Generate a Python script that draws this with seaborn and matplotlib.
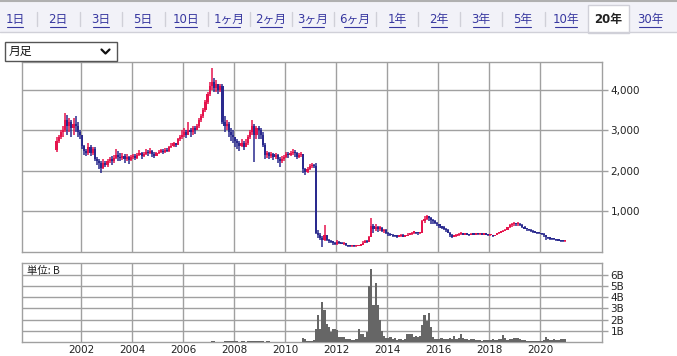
import numpy as np
import seaborn as sns
import matplotlib.pyplot as plt
from matplotlib.patches import Rectangle
from matplotlib.lines import Line2D

# monthly candles, Jan 2001 - Dec 2020 (one line per year)
first_open = 2520
close = [
    2750, 2850, 2950, 3000, 3250, 3100, 3200, 3050, 3150, 3100, 2950, 2900,
    2620, 2500, 2450, 2600, 2450, 2550, 2300, 2250, 2200, 2080, 2200, 2150,
    2250, 2300, 2250, 2330, 2400, 2350, 2320, 2380, 2300, 2350, 2280, 2350,
    2380, 2320, 2400, 2450, 2380, 2420, 2480, 2450, 2500, 2420, 2380, 2450,
    2480, 2500, 2460, 2520, 2500, 2580, 2620, 2680, 2650, 2780, 2850, 2900,
    2960, 2900, 3000, 2950, 3050, 3020, 3100, 3250, 3350, 3500, 3700, 3900,
    4100, 4200, 4050, 4150, 4000, 4100, 3200, 3100, 3150, 2950, 2900, 2850,
    2750, 2680, 2620, 2700, 2600, 2700, 2850, 2950, 3100, 2900, 3050, 3000,
    2900, 2650, 2400, 2450, 2380, 2420, 2350, 2400, 2300, 2250, 2300, 2350,
    2420, 2400, 2450, 2480, 2450, 2350, 2400, 2420, 2050, 1980, 2050, 2120,
    2150, 2120, 470, 420, 350, 300, 420, 300, 270, 250, 230, 190,
    240, 220, 200, 210, 170, 150, 140, 150, 140, 150, 160, 180,
    230, 260, 250, 360, 640, 560, 620, 580, 600, 520, 540, 480,
    450, 420, 400, 390, 380, 400, 420, 380, 400, 430, 450, 480,
    480, 470, 460, 480, 760, 820, 880, 850, 800, 760, 720, 680,
    630, 600, 580, 550, 480, 420, 380, 400, 420, 440, 450, 430,
    440, 430, 420, 440, 430, 450, 440, 440, 430, 440, 430, 420,
    420, 400, 410, 460, 480, 500, 520, 540, 610, 660, 680, 700,
    680, 700, 660, 620, 580, 560, 540, 520, 500, 480, 470, 460,
    450, 410, 360, 340, 330, 320, 310, 290, 280, 270, 260, 270,
]
high = [
    2850, 2900, 3000, 3100, 3430, 3380, 3300, 3250, 3300, 3350, 3200, 3000,
    2850, 2650, 2550, 2700, 2650, 2600, 2600, 2350, 2300, 2250, 2300, 2250,
    2300, 2350, 2380, 2400, 2550, 2500, 2450, 2450, 2420, 2420, 2380, 2400,
    2420, 2420, 2450, 2520, 2480, 2480, 2540, 2520, 2560, 2520, 2460, 2480,
    2520, 2550, 2540, 2560, 2560, 2620, 2680, 2720, 2700, 2820, 2900, 3000,
    3050, 3000, 3200, 3050, 3100, 3100, 3150, 3300, 3400, 3550, 3750, 3950,
    4200, 4540, 4300, 4250, 4150, 4150, 4150, 3350, 3250, 3200, 3050, 3000,
    2850, 2800, 2750, 2800, 2750, 2780, 2900, 3000, 3250, 3150, 3100, 3100,
    3050, 2950, 2700, 2500, 2480, 2480, 2450, 2450, 2420, 2350, 2380, 2400,
    2480, 2470, 2500, 2550, 2520, 2480, 2450, 2470, 2420, 2080, 2100, 2180,
    2200, 2180, 2200, 550, 480, 400, 660, 430, 320, 300, 270, 250,
    300, 260, 240, 250, 220, 180, 160, 170, 160, 170, 175, 200,
    260, 290, 300, 400, 830, 700, 700, 650, 650, 620, 580, 560,
    500, 470, 440, 420, 420, 430, 450, 440, 430, 460, 480, 500,
    520, 500, 490, 500, 800, 900, 920, 900, 860, 820, 780, 740,
    700, 650, 630, 600, 560, 500, 440, 430, 440, 460, 500, 470,
    460, 460, 450, 470, 460, 480, 470, 460, 450, 460, 460, 450,
    440, 430, 430, 480, 500, 520, 540, 560, 620, 700, 720, 730,
    720, 730, 710, 680, 640, 600, 580, 560, 540, 520, 500, 490,
    480, 460, 420, 380, 360, 350, 340, 320, 310, 300, 290, 300,
]
low = [
    2480, 2700, 2800, 2850, 2950, 2900, 2950, 2850, 2900, 2950, 2850, 2800,
    2550, 2400, 2380, 2400, 2380, 2400, 2250, 2150, 2050, 1960, 2050, 2100,
    2100, 2200, 2150, 2200, 2300, 2250, 2250, 2280, 2200, 2250, 2180, 2250,
    2300, 2280, 2300, 2380, 2300, 2350, 2400, 2380, 2420, 2350, 2330, 2370,
    2420, 2450, 2420, 2440, 2460, 2480, 2560, 2600, 2580, 2640, 2750, 2780,
    2850, 2820, 2880, 2850, 2900, 2920, 3000, 3050, 3200, 3300, 3450, 3650,
    3850, 4000, 3950, 3950, 3900, 3950, 3150, 2950, 3000, 2850, 2750, 2700,
    2600, 2550, 2500, 2580, 2520, 2580, 2650, 2800, 2900, 2220, 2800, 2800,
    2800, 2600, 2300, 2330, 2300, 2330, 2280, 2300, 2200, 2100, 2200, 2250,
    2320, 2330, 2380, 2400, 2350, 2300, 2330, 2350, 1950, 1900, 1950, 2020,
    2080, 2080, 450, 350, 300, 130, 280, 270, 220, 220, 180, 170,
    180, 200, 190, 180, 150, 120, 120, 130, 130, 135, 140, 155,
    170, 220, 220, 240, 360, 480, 520, 500, 520, 500, 480, 450,
    400, 390, 360, 360, 350, 360, 380, 360, 370, 390, 410, 430,
    440, 440, 430, 450, 470, 720, 780, 760, 700, 700, 680, 640,
    600, 560, 550, 500, 460, 380, 340, 360, 380, 400, 420, 410,
    410, 410, 400, 410, 410, 420, 420, 420, 410, 420, 410, 400,
    390, 380, 390, 410, 450, 470, 490, 510, 540, 600, 620, 640,
    640, 650, 640, 600, 560, 530, 520, 490, 480, 460, 450, 440,
    430, 380, 300, 310, 300, 300, 290, 270, 260, 250, 240, 250,
]
# volume in billions of shares
volume = [
    0.02, 0.02, 0.02, 0.02, 0.02, 0.02, 0.02, 0.02, 0.02, 0.02, 0.02, 0.02,
    0.02, 0.02, 0.02, 0.02, 0.02, 0.02, 0.02, 0.02, 0.02, 0.02, 0.02, 0.02,
    0.02, 0.02, 0.02, 0.02, 0.02, 0.02, 0.02, 0.02, 0.02, 0.02, 0.02, 0.02,
    0.02, 0.02, 0.02, 0.02, 0.02, 0.02, 0.02, 0.02, 0.02, 0.02, 0.02, 0.02,
    0.02, 0.02, 0.02, 0.02, 0.02, 0.02, 0.02, 0.02, 0.02, 0.02, 0.02, 0.02,
    0.02, 0.02, 0.02, 0.02, 0.02, 0.02, 0.02, 0.02, 0.02, 0.02, 0.02, 0.02,
    0.03, 0.10, 0.10, 0.05, 0.03, 0.03, 0.03, 0.10, 0.10, 0.10, 0.10, 0.10,
    0.10, 0.10, 0.03, 0.10, 0.10, 0.03, 0.10, 0.10, 0.10, 0.10, 0.10, 0.10,
    0.10, 0.10, 0.03, 0.10, 0.10, 0.03, 0.02, 0.02, 0.02, 0.02, 0.02, 0.02,
    0.02, 0.02, 0.02, 0.02, 0.02, 0.02, 0.02, 0.02, 0.35, 0.30, 0.10, 0.10,
    0.15, 0.20, 1.20, 2.45, 1.20, 3.55, 2.90, 1.65, 1.35, 0.90, 1.15, 1.15,
    1.10, 0.50, 0.50, 0.45, 0.30, 0.25, 0.25, 0.20, 0.20, 0.25, 1.15, 0.75,
    0.75, 0.50, 0.90, 5.00, 6.50, 3.30, 5.25, 3.30, 2.00, 1.00, 0.60, 0.40,
    0.40, 0.45, 0.30, 0.35, 0.20, 0.30, 0.25, 0.20, 0.30, 0.70, 0.75, 0.70,
    0.50, 0.55, 0.45, 0.60, 1.55, 2.40, 1.90, 2.60, 1.35, 0.50, 0.30, 0.30,
    0.30, 0.35, 0.25, 0.30, 0.30, 0.35, 0.30, 0.55, 0.30, 0.40, 0.75, 0.40,
    0.30, 0.25, 0.20, 0.30, 0.25, 0.20, 0.20, 0.20, 0.15, 0.20, 0.20, 0.20,
    0.20, 0.25, 0.20, 0.20, 0.25, 0.30, 0.67, 0.35, 0.20, 0.25, 0.30, 0.40,
    0.35, 0.40, 0.30, 0.20, 0.20, 0.15, 0.15, 0.15, 0.15, 0.15, 0.15, 0.15,
    0.15, 0.20, 0.45, 0.30, 0.20, 0.20, 0.25, 0.20, 0.20, 0.25, 0.25, 0.25,
]
year_ticks = list(range(2002, 2021, 2))
price_ticks = [1000, 2000, 3000, 4000]
vol_ticks = [1, 2, 3, 4, 5, 6]
tabs = ["1日", "2日", "3日", "5日", "10日", "1ヶ月", "2ヶ月", "3ヶ月", "6ヶ月",
        "1年", "2年", "3年", "5年", "10年", "20年", "30年"]
tab_x = [15, 58, 101, 143, 186, 229, 271, 313, 355, 397, 439, 481, 523, 566, 608, 650]

UP = "#e5144d"
DOWN = "#2a2a8e"
GRID = "#a0a0a0"

sns.set_style("white")
plt.rcParams["font.family"] = ["DejaVu Sans", "Noto Sans CJK JP"]

W, H = 677, 356
fig = plt.figure(figsize=(W / 100, H / 100), dpi=100)
fig.patch.set_facecolor("white")


def fx(x):
    return x / W


def fy(y):
    return 1 - y / H


# tab bar
fig.add_artist(Rectangle((0, fy(32)), 1, fy(0) - fy(32), transform=fig.transFigure,
                         facecolor="#f2f2f8", edgecolor="none"))
fig.add_artist(Line2D([0, 1], [fy(1), fy(1)], transform=fig.transFigure, color="#b0b0b0", lw=1.5))
fig.add_artist(Line2D([0, 1], [fy(32), fy(32)], transform=fig.transFigure, color="#d0d0d8", lw=1))
fig.add_artist(Rectangle((fx(588), fy(33)), fx(41), fy(5) - fy(33), transform=fig.transFigure,
                         facecolor="white", edgecolor="#d0d0d8", lw=1))
for i, (lab, x) in enumerate(zip(tabs, tab_x)):
    sel = lab == "20年"
    fig.text(fx(x), fy(19), lab, ha="center", va="center", fontsize=8.5,
             family=["DejaVu Sans", "Noto Sans CJK JP"],
             color="#222222" if sel else "#3838a0", weight="bold" if sel else "normal")
    if not sel:
        w = 6.6 * len(lab) + 2
        fig.add_artist(Line2D([fx(x - w / 2), fx(x + w / 2)], [fy(26.5), fy(26.5)],
                              transform=fig.transFigure, color="#3838a0", lw=0.8))
    if 0 < i:
        sx = (tab_x[i - 1] + x) / 2
        if lab not in ("20年", "30年"):
            fig.add_artist(Line2D([fx(sx), fx(sx)], [fy(12), fy(26)],
                                  transform=fig.transFigure, color="#d0d0d8", lw=1))

# dropdown
fig.add_artist(Rectangle((fx(5), fy(61)), fx(112), fy(42) - fy(61), transform=fig.transFigure,
                         facecolor="white", edgecolor="#555555", lw=1))
fig.text(fx(9), fy(51.5), "月足", ha="left", va="center", fontsize=8.5,
         family=["Noto Sans CJK JP", "DejaVu Sans"], color="#111111")
fig.add_artist(Line2D([fx(101.5), fx(105.5), fx(109.5)], [fy(49.5), fy(53.5), fy(49.5)],
                      transform=fig.transFigure, color="#111111", lw=1.6))

# axes
left, right = 22, 602
ax = fig.add_axes([fx(left), fy(252), fx(right - left), fy(62) - fy(252)])
axv = fig.add_axes([fx(left), fy(342.3), fx(right - left), fy(263.3) - fy(342.3)])

n = len(close)
t = 2001 + (np.arange(n) + 0.5) / 12
c = np.array(close, dtype=float)
o = np.concatenate([[first_open], c[:-1]])
hi = np.array(high, dtype=float)
lo = np.array(low, dtype=float)
up = c >= o
cols = np.where(up, UP, DOWN)

ax.vlines(t, lo, hi, colors=cols, lw=1.1, zorder=3)
body_h = np.maximum(np.abs(c - o), 30)
ax.bar(t, body_h, bottom=np.minimum(o, c), width=0.085, color=cols, linewidth=0, zorder=4)

sns.barplot(x=t, y=volume, native_scale=True, color="#666666", width=1.0,
            saturation=1, errorbar=None, linewidth=0, ax=axv, zorder=3)

x0, x1 = 1999.69, 2022.41
for a in (ax, axv):
    a.set_xlim(x0, x1)
    a.set_xticks(year_ticks)
    a.grid(True, color=GRID, lw=1)
    a.set_axisbelow(True)
    for s in a.spines.values():
        s.set_visible(True)
        s.set_color(GRID)
        s.set_linewidth(1)
    a.yaxis.tick_right()
    a.tick_params(axis="y", which="both", right=True, length=4, width=1, color=GRID,
                  labelsize=7.5, pad=2, labelcolor="#222222")
    a.tick_params(axis="x", length=0, labelsize=7.5, labelcolor="#222222", pad=2)
    a.set_xlabel("")
    a.set_ylabel("")

ax.set_ylim(0, 4690)
ax.set_yticks(price_ticks)
ax.set_yticklabels([f"{v:,}" for v in price_ticks])
ax.tick_params(axis="x", labelbottom=False)

axv.set_ylim(0, 7)
axv.set_yticks(vol_ticks)
axv.set_yticklabels([f"{v}B" for v in vol_ticks])
axv.set_xticklabels([str(y) for y in year_ticks])
axv.text(0.008, 0.97, "単位: B", transform=axv.transAxes, ha="left", va="top", fontsize=7.5,
         family=["Noto Sans CJK JP", "DejaVu Sans"], color="#222222")

fig.savefig("out.png", dpi=100)
